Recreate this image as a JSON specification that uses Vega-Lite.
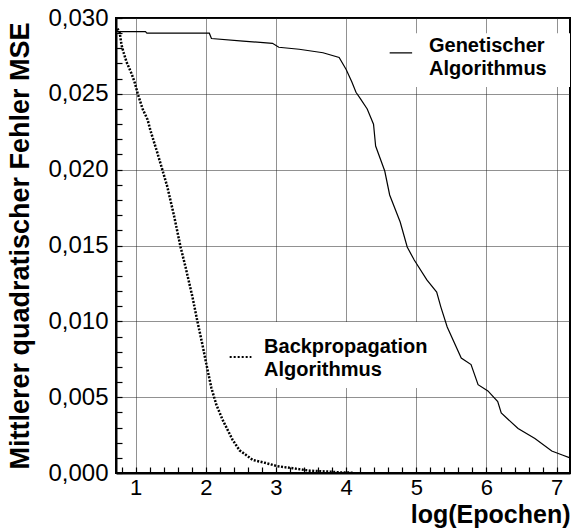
{
  "$schema": "https://vega.github.io/schema/vega-lite/v6.json",
  "width": 454,
  "height": 455,
  "autosize": {"type": "none"},
  "padding": {"left": 116, "top": 18, "right": 3, "bottom": 56},
  "background": "white",
  "config": {
    "view": {"stroke": "black", "strokeWidth": 2},
    "font": "Liberation Sans"
  },
  "datasets": {
    "ga": [
      {"x": 0.72, "y": 0.0291}, {"x": 1.14, "y": 0.0291}, {"x": 1.16, "y": 0.0290},
      {"x": 2.05, "y": 0.0290}, {"x": 2.08, "y": 0.02865}, {"x": 2.53, "y": 0.02848},
      {"x": 2.95, "y": 0.02833}, {"x": 3.04, "y": 0.02807}, {"x": 3.33, "y": 0.02794},
      {"x": 3.67, "y": 0.02771}, {"x": 3.9, "y": 0.0274}, {"x": 4.0, "y": 0.0266},
      {"x": 4.08, "y": 0.0258}, {"x": 4.14, "y": 0.0251}, {"x": 4.2, "y": 0.0247},
      {"x": 4.3, "y": 0.024}, {"x": 4.39, "y": 0.023}, {"x": 4.42, "y": 0.02156},
      {"x": 4.55, "y": 0.01991}, {"x": 4.62, "y": 0.01833}, {"x": 4.77, "y": 0.01655},
      {"x": 4.87, "y": 0.0149}, {"x": 4.97, "y": 0.01404}, {"x": 5.15, "y": 0.01273},
      {"x": 5.29, "y": 0.01193}, {"x": 5.35, "y": 0.01094}, {"x": 5.44, "y": 0.00963},
      {"x": 5.64, "y": 0.00758}, {"x": 5.78, "y": 0.00715}, {"x": 5.88, "y": 0.00582},
      {"x": 6.02, "y": 0.00541}, {"x": 6.16, "y": 0.00471}, {"x": 6.21, "y": 0.00396},
      {"x": 6.45, "y": 0.00293}, {"x": 6.69, "y": 0.00227}, {"x": 6.93, "y": 0.00145},
      {"x": 7.08, "y": 0.00119}, {"x": 7.19, "y": 0.001}
    ],
    "bp": [
      {"x": 0.74, "y": 0.0293}, {"x": 0.77, "y": 0.0291}, {"x": 0.8, "y": 0.0282},
      {"x": 0.83, "y": 0.0277}, {"x": 0.87, "y": 0.0271}, {"x": 0.94, "y": 0.02635},
      {"x": 0.99, "y": 0.0257}, {"x": 1.03, "y": 0.025}, {"x": 1.1, "y": 0.024},
      {"x": 1.17, "y": 0.0233}, {"x": 1.21, "y": 0.0226}, {"x": 1.31, "y": 0.0211},
      {"x": 1.38, "y": 0.02}, {"x": 1.45, "y": 0.0189}, {"x": 1.55, "y": 0.0169},
      {"x": 1.64, "y": 0.0149}, {"x": 1.71, "y": 0.0136}, {"x": 1.81, "y": 0.0116},
      {"x": 1.88, "y": 0.01}, {"x": 1.95, "y": 0.0085}, {"x": 2.02, "y": 0.0069},
      {"x": 2.08, "y": 0.0056}, {"x": 2.15, "y": 0.0045}, {"x": 2.24, "y": 0.0035},
      {"x": 2.38, "y": 0.0022}, {"x": 2.48, "y": 0.0015}, {"x": 2.67, "y": 0.00086},
      {"x": 2.87, "y": 0.00064}, {"x": 3.01, "y": 0.00046}, {"x": 3.24, "y": 0.00031},
      {"x": 3.48, "y": 0.00015}, {"x": 3.77, "y": 0.00009}, {"x": 3.91, "y": 0.00004},
      {"x": 4.1, "y": 0.00002}
    ],
    "boxes": [
      {"x": 4.97, "x2": 7.19, "y": 0.02545, "y2": 0.0290},
      {"x": 2.8, "x2": 5.34, "y": 0.0056, "y2": 0.00995}
    ],
    "samples": [
      {"x": 4.62, "x2": 4.94, "y": 0.0277, "kind": "GA"},
      {"x": 2.34, "x2": 2.65, "y": 0.00765, "kind": "BP"}
    ],
    "labels": [
      {"x": 5.18, "y": 0.02815, "text": "Genetischer"},
      {"x": 5.18, "y": 0.02664, "text": "Algorithmus"},
      {"x": 2.83, "y": 0.00831, "text": "Backpropagation"},
      {"x": 2.83, "y": 0.00679, "text": "Algorithmus"}
    ]
  },
  "encoding": {
    "x": {
      "field": "x", "type": "quantitative",
      "scale": {"domain": [0.72, 7.19], "nice": false, "zero": false},
      "axis": {
        "title": "log(Epochen)",
        "titleFont": "Liberation Sans", "titleFontSize": 25, "titleFontWeight": "bold",
        "titleColor": "black", "titleAnchor": "end", "titleBaseline": "alphabetic", "titleY": 49,
        "values": [0.8, 1, 1.2, 1.4, 1.6, 1.8, 2, 2.2, 2.4, 2.6, 2.8, 3, 3.2, 3.4, 3.6, 3.8, 4, 4.2, 4.4, 4.6, 4.8, 5, 5.2, 5.4, 5.6, 5.8, 6, 6.2, 6.4, 6.6, 6.8, 7],
        "labelExpr": "datum.value % 1 === 0 ? format(datum.value, 'd') : ''",
        "labelFont": "Liberation Sans", "labelFontSize": 22, "labelColor": "black",
        "labelPadding": 10, "labelFlush": false, "labelOverlap": false,
        "tickSize": -6, "tickColor": "black", "tickWidth": 1.2,
        "domainColor": "black", "domainWidth": 2,
        "grid": true, "gridColor": "#222", "gridDash": [1, 1], "gridWidth": 1,
        "gridOpacity": {"condition": {"test": "datum.value % 1 !== 0", "value": 0}, "value": 1}
      }
    },
    "y": {
      "field": "y", "type": "quantitative",
      "scale": {"domain": [0, 0.03], "nice": false, "zero": true},
      "axis": {
        "title": "Mittlerer quadratischer Fehler MSE",
        "titleFont": "Liberation Sans", "titleFontSize": 27, "titleFontWeight": "bold",
        "titleColor": "black", "titlePadding": 13,
        "values": [0, 0.001, 0.002, 0.003, 0.004, 0.005, 0.006, 0.007, 0.008, 0.009, 0.01, 0.011, 0.012, 0.013, 0.014, 0.015, 0.016, 0.017, 0.018, 0.019, 0.02, 0.021, 0.022, 0.023, 0.024, 0.025, 0.026, 0.027, 0.028, 0.029, 0.03],
        "labelExpr": "round(datum.value*1000) % 5 === 0 ? replace(format(datum.value, '.3f'), '.', ',') : ''",
        "labelFont": "Liberation Sans", "labelFontSize": 24, "labelColor": "black",
        "labelPadding": 14, "labelFlush": false, "labelOverlap": false,
        "tickSize": -6, "tickColor": "black", "tickWidth": 1.2,
        "domainColor": "black", "domainWidth": 2,
        "grid": true, "gridColor": "#222", "gridDash": [1, 1], "gridWidth": 1,
        "gridOpacity": {"condition": {"test": "round(datum.value*1000) % 5 !== 0", "value": 0}, "value": 1}
      }
    }
  },
  "layer": [
    {
      "data": {"name": "boxes"},
      "mark": {"type": "rect", "fill": "white"},
      "encoding": {"x2": {"field": "x2"}, "y2": {"field": "y2"}}
    },
    {
      "data": {"name": "ga"},
      "mark": {"type": "line", "color": "black", "strokeWidth": 1.2}
    },
    {
      "data": {"name": "bp"},
      "mark": {"type": "line", "color": "black", "strokeWidth": 2.5, "strokeDash": [2, 1.5]}
    },
    {
      "data": {"name": "samples"},
      "mark": {"type": "rule", "color": "black"},
      "encoding": {
        "x2": {"field": "x2"},
        "strokeDash": {"field": "kind", "type": "nominal", "scale": {"domain": ["GA", "BP"], "range": [[1, 0], [2, 2]]}, "legend": null},
        "strokeWidth": {"field": "kind", "type": "nominal", "scale": {"domain": ["GA", "BP"], "range": [1.2, 2]}, "legend": null}
      }
    },
    {
      "data": {"name": "labels"},
      "mark": {"type": "text", "font": "Liberation Sans", "fontWeight": "bold", "fontSize": 20, "align": "left", "baseline": "middle", "color": "black"},
      "encoding": {"text": {"field": "text"}}
    }
  ]
}
